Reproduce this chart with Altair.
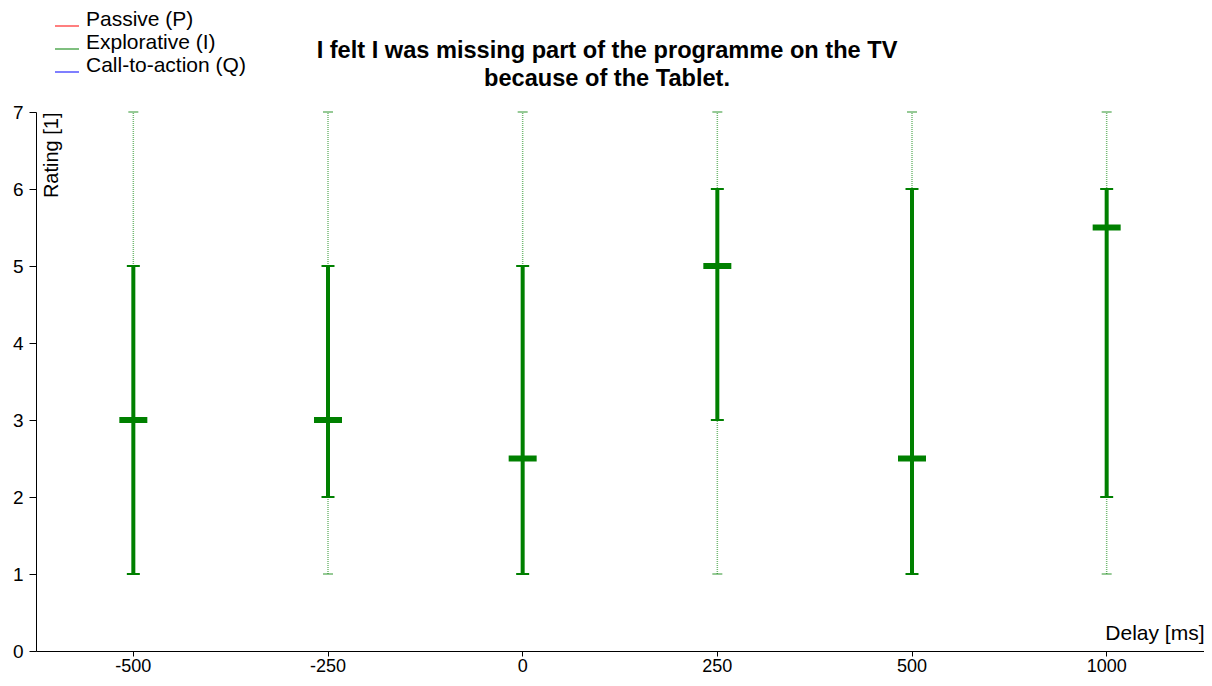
import altair as alt
import pandas as pd

delays = ["-500", "-250", "0", "250", "500", "1000"]
w_low = [1, 1, 1, 1, 1, 1]
q1 = [1, 2, 1, 3, 1, 2]
median = [3, 3, 2.5, 5, 2.5, 5.5]
q3 = [5, 5, 5, 6, 6, 6]
w_high = [7, 7, 7, 7, 7, 7]
series_names = ["Passive (P)", "Explorative (I)", "Call-to-action (Q)"]
series_colors = ["#ff0000", "#008000", "#0000ff"]

df = pd.DataFrame({
    "delay": delays, "lo": w_low, "q1": q1, "med": median, "q3": q3, "hi": w_high,
    "series": ["Explorative (I)"] * len(delays),
})

FONT = "Liberation Sans"

x = alt.X("delay:N", sort=delays, scale=alt.Scale(paddingInner=0, paddingOuter=0),
          axis=alt.Axis(title="Delay [ms]", labelAngle=0, labelFontSize=18, labelColor="#000",
                        labelFont=FONT, labelPadding=1, tickSize=5, tickColor="#000",
                        domainColor="#000", titleFontSize=21, titleFont=FONT, titleFontWeight="normal",
                        titleAnchor="end", titleAlign="right", titleX=1168, titleY=-18,
                        titleBaseline="middle", titleColor="#000"))
yscale = alt.Scale(domain=[0, 7], nice=False)
yaxis = alt.Axis(title="Rating [1]", values=[0, 1, 2, 3, 4, 5, 6, 7], format="d", grid=False,
                 labelFontSize=19, labelFont=FONT, labelColor="#000", tickSize=7, tickColor="#000",
                 domainColor="#000", titleFontSize=20, titleFont=FONT, titleFontWeight="normal",
                 titleAngle=270, titleAlign="right", titleX=15, titleY=0, titleBaseline="middle",
                 titleColor="#000", labelPadding=6)

color = alt.Color("series:N", scale=alt.Scale(domain=series_names, range=series_colors),
                  legend=alt.Legend(title=None, orient="none", legendX=18, legendY=-99,
                                    symbolType="stroke", symbolSize=576, symbolStrokeWidth=1.2,
                                    symbolOpacity=1, symbolDash=[1, 0],
                                    labelFontSize=21, labelFont=FONT, labelColor="#000",
                                    labelBaseline="alphabetic", rowPadding=2, labelOffset=6))

base = alt.Chart(df)

whisker = base.mark_rule(strokeDash=[1, 1], strokeWidth=1.5, opacity=0.55).encode(
    x=x, y=alt.Y("lo:Q", scale=yscale, axis=yaxis), y2="hi:Q", color=color)
box = base.mark_rule(strokeWidth=4, opacity=1).encode(
    x=x, y=alt.Y("q1:Q", scale=yscale), y2="q3:Q", color=color)
cap_q1 = base.mark_tick(size=13, thickness=2, opacity=1, orient="horizontal").encode(
    x=x, y=alt.Y("q1:Q", scale=yscale), color=color)
cap_q3 = base.mark_tick(size=13, thickness=2, opacity=1, orient="horizontal").encode(
    x=x, y=alt.Y("q3:Q", scale=yscale), color=color)
cap_lo = base.mark_tick(size=10, thickness=1.5, opacity=0.55, orient="horizontal").encode(
    x=x, y=alt.Y("lo:Q", scale=yscale), color=color)
cap_hi = base.mark_tick(size=10, thickness=1.5, opacity=0.55, orient="horizontal").encode(
    x=x, y=alt.Y("hi:Q", scale=yscale), color=color)
med = base.mark_tick(size=28, thickness=6, opacity=1, orient="horizontal").encode(
    x=x, y=alt.Y("med:Q", scale=yscale), color=color)

chart = alt.layer(whisker, box, cap_lo, cap_hi, cap_q1, cap_q3, med).properties(
    width=1168, height=539,
    autosize=alt.AutoSizeParams(type="none"),
    padding={"left": 28, "top": 104, "right": 0, "bottom": 27},
    title=alt.TitleParams(text=["I felt I was missing part of the programme on the TV",
                                "because of the Tablet."],
                          fontSize=23.6, font=FONT, fontWeight="bold", color="#000",
                          anchor="middle", dx=-13, dy=78, offset=0, lineHeight=28),
).configure_view(stroke=None)

chart.save("out.html", embed_options={"renderer": "svg", "actions": False})
